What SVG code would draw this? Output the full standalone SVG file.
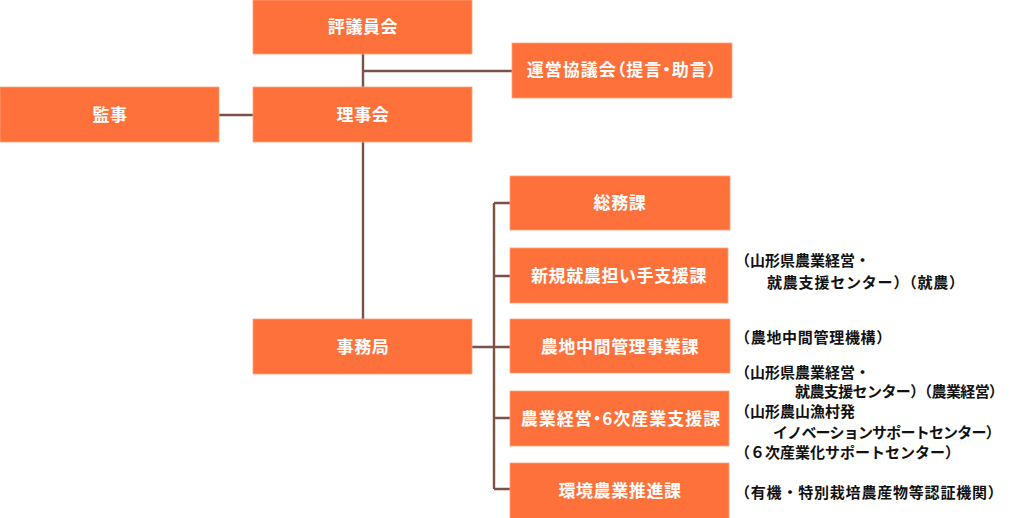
<svg xmlns="http://www.w3.org/2000/svg" width="1024" height="518" viewBox="0 0 1024 518">
<style>
.box{fill:#FE713A;stroke:#FFA27E;stroke-width:0.8}
.bt{fill:#fff;font-family:"Noto Sans CJK JP","Noto Sans",sans-serif;font-weight:bold;font-size:17px;text-anchor:middle;letter-spacing:0.6px}
.pt{font-feature-settings:"palt";letter-spacing:1px}
.note{fill:#111;font-family:"Noto Sans CJK JP","Noto Sans",sans-serif;font-weight:bold;font-size:15px}
.ln{stroke:#7B5247;stroke-width:2.4;fill:none}
</style>
<rect width="1024" height="518" fill="#fff"/>
<g id="connectors">
<path class="ln" d="M363 54V87M363 71H512M219 115H253M363 142V320"/>
<path class="ln" d="M472 347H494M494 203V489M494 203H510M494 276H510M494 347H510M494 418H510M494 489H510"/>
</g>
<g id="hyogiinkai"><rect class="box" x="253" y="0" width="219" height="54"/><text class="bt" x="363" y="33">評議員会</text></g>
<g id="uneikyogikai"><rect class="box" x="512" y="43" width="220" height="55"/><text class="bt pt" x="622" y="76">運営協議会（提言・助言）</text></g>
<g id="kanji"><rect class="box" x="0" y="87" width="219" height="55"/><text class="bt" x="110" y="121">監事</text></g>
<g id="rijikai"><rect class="box" x="253" y="87" width="219" height="55"/><text class="bt" x="363" y="121">理事会</text></g>
<g id="jimukyoku"><rect class="box" x="253" y="319" width="219" height="55"/><text class="bt" x="363" y="353">事務局</text></g>
<g id="somuka"><rect class="box" x="510" y="176" width="220" height="54"/><text class="bt" x="620" y="209">総務課</text></g>
<g id="shinki"><rect class="box" x="510" y="248" width="218" height="55"/><text class="bt" x="619" y="282">新規就農担い手支援課</text></g>
<g id="nochi"><rect class="box" x="510" y="319" width="220" height="54"/><text class="bt" x="620" y="353">農地中間管理事業課</text></g>
<g id="nogyokeiei"><rect class="box" x="510" y="391" width="219" height="55"/><text class="bt pt" x="621" y="425">農業経営・6次産業支援課</text></g>
<g id="kankyo"><rect class="box" x="510" y="463" width="219" height="56"/><text class="bt" x="620" y="497">環境農業推進課</text></g>
<g id="notes">
<text class="note" x="735" y="266">（山形県農業経営・</text>
<text class="note" x="767" y="288" letter-spacing="0.8">就農支援センター）（就農）</text>
<text class="note" x="735" y="343" letter-spacing="0.7">（農地中間管理機構）</text>
<text class="note" x="735" y="378">（山形県農業経営・</text>
<text class="note" x="795" y="397" letter-spacing="-0.6">就農支援センター）（農業経営）</text>
<text class="note" x="735" y="417">（山形農山漁村発</text>
<text class="note" x="773" y="438" letter-spacing="-0.8">イノベーションサポートセンター）</text>
<text class="note" x="735" y="458">（６次産業化サポートセンター）</text>
<text class="note" x="735" y="498" letter-spacing="0.8">（有機・特別栽培農産物等認証機関）</text>
</g>
</svg>
